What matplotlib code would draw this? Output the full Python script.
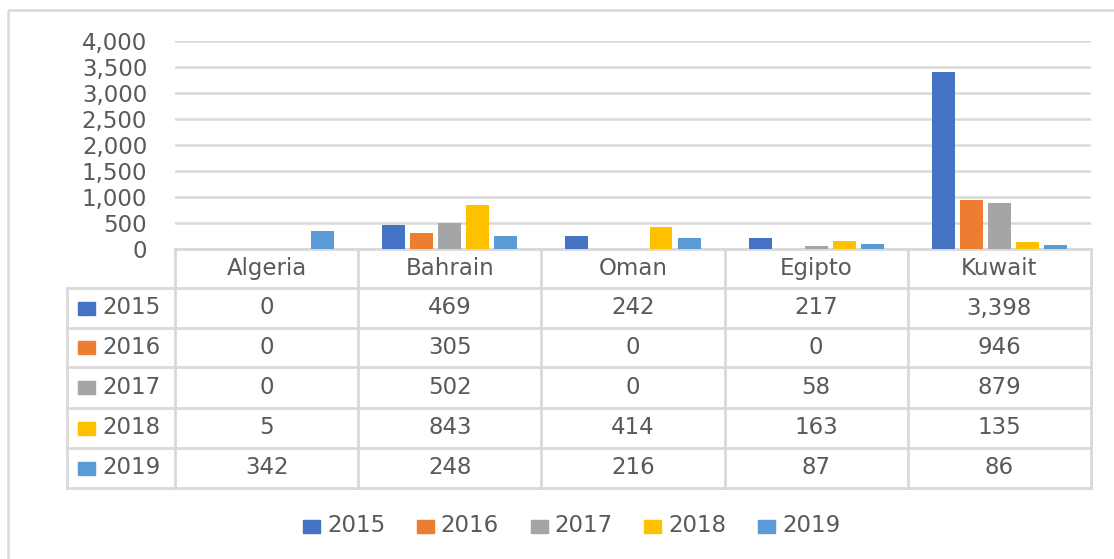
import matplotlib
matplotlib.use("Agg")
import matplotlib.pyplot as plt
from matplotlib.patches import Rectangle
import numpy as np

countries = ["Algeria", "Bahrain", "Oman", "Egipto", "Kuwait"]
years = ["2015", "2016", "2017", "2018", "2019"]
v2015 = [0, 469, 242, 217, 3398]
v2016 = [0, 305, 0, 0, 946]
v2017 = [0, 502, 0, 58, 879]
v2018 = [5, 843, 414, 163, 135]
v2019 = [342, 248, 216, 87, 86]
series = [v2015, v2016, v2017, v2018, v2019]
colors = ["#4472C4", "#ED7D31", "#A5A5A5", "#FFC000", "#5B9BD5"]
yticks = [0, 500, 1000, 1500, 2000, 2500, 3000, 3500, 4000]

W, H = 1114, 559
TXT = "#595959"
GRID = "#D9D9D9"
FS = 16.5

plt.rcParams['font.family'] = ['DejaVu Sans']
fig = plt.figure(figsize=(W / 100, H / 100), dpi=100)

# layout in pixels
L, R = 175, 1091
TOP, BOT = 41, 249
ROWS = [249, 288, 328, 367, 408, 448, 488]
LEGL = 67

# overlay axes in pixel coordinates
ov = fig.add_axes([0, 0, 1, 1])
ov.set_xlim(0, W)
ov.set_ylim(H, 0)
ov.axis("off")

# chart border (top and left visible)
ov.plot([8, W + 5], [10, 10], color=GRID, lw=1.8, solid_capstyle="butt")
ov.plot([8, 8], [10, H + 5], color=GRID, lw=1.8, solid_capstyle="butt")

ax = fig.add_axes([L / W, 1 - BOT / H, (R - L) / W, (BOT - TOP) / H])
ax.set_xlim(-0.5, len(countries) - 0.5)
ax.set_ylim(0, 4000)
ax.set_yticks(yticks)
ax.set_yticklabels([f"{t:,}" for t in yticks], fontsize=FS, color=TXT)
ax.tick_params(axis="y", length=0, pad=20)
ax.set_xticks([])
for s in ax.spines.values():
    s.set_visible(False)
ax.grid(axis="y", color=GRID, lw=1.8)
ax.set_axisbelow(True)
ax.patch.set_alpha(0)

x = np.arange(len(countries))
bw = 0.125
step = 0.153
for i, (vals, c) in enumerate(zip(series, colors)):
    ax.bar(x + (i - 2) * step, vals, width=bw, color=c, zorder=3)

# data table
cols = [L + (R - L) * i / len(countries) for i in range(len(countries) + 1)]
lw = 2.0
ov.plot([L, R], [ROWS[0], ROWS[0]], color=GRID, lw=lw)
for yy in ROWS[1:]:
    ov.plot([LEGL, R], [yy, yy], color=GRID, lw=lw)
ov.plot([LEGL, LEGL], [ROWS[1], ROWS[-1]], color=GRID, lw=lw)
for cx in cols:
    ov.plot([cx, cx], [ROWS[0], ROWS[-1]], color=GRID, lw=lw)

for j, name in enumerate(countries):
    cx = (cols[j] + cols[j + 1]) / 2
    ov.text(cx, (ROWS[0] + ROWS[1]) / 2, name, ha="center", va="center",
            fontsize=FS, color=TXT)
for i, (yr, vals, c) in enumerate(zip(years, series, colors)):
    cy = (ROWS[i + 1] + ROWS[i + 2]) / 2
    ov.add_patch(Rectangle((78, cy - 6.5), 17, 13, color=c))
    ov.text(102, cy, yr, ha="left", va="center", fontsize=FS, color=TXT)
    for j, v in enumerate(vals):
        cx = (cols[j] + cols[j + 1]) / 2
        ov.text(cx, cy, f"{v:,}", ha="center", va="center", fontsize=FS, color=TXT)

# legend
leg_y = 526
x0 = 303
for i, (yr, c) in enumerate(zip(years, colors)):
    lx = x0 + i * 113.75
    ov.add_patch(Rectangle((lx, leg_y - 6.5), 17, 13, color=c))
    ov.text(lx + 24, leg_y, yr, ha="left", va="center", fontsize=FS, color=TXT)

fig.savefig("out.png", dpi=100)
